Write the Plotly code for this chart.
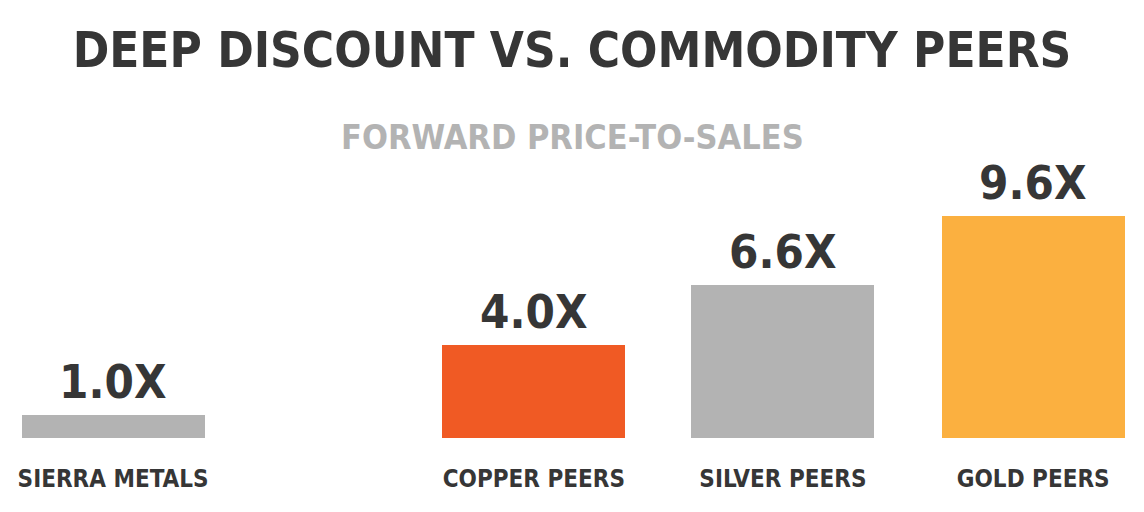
import plotly.graph_objects as go

# Data
categories = ["SIERRA METALS", "COPPER PEERS", "SILVER PEERS", "GOLD PEERS"]
values = [1.0, 4.0, 6.6, 9.6]
value_labels = ["1.0X", "4.0X", "6.6X", "9.6X"]

# Layout (bar slots; Sierra set apart from the peer group)
x_slots = [0.0, 1.69, 2.69, 3.695]
bar_colors = ["#b3b3b3", "#f05a24", "#b3b3b3", "#fbb040"]

FONT = "DejaVu Sans Condensed, Liberation Sans Narrow, sans-serif"
DARK = "#363636"

fig = go.Figure()
fig.add_trace(go.Bar(
    x=x_slots, y=values, width=0.735,
    marker=dict(color=bar_colors, line=dict(width=0)),
    hoverinfo="skip", showlegend=False,
))

for xs, v, lab in zip(x_slots, values, value_labels):
    fig.add_annotation(
        x=xs, y=v, xref="x", yref="y", text=f"<b>{lab}</b>",
        showarrow=False, yanchor="bottom", xanchor="center", yshift=4,
        font=dict(family=FONT, size=47, color=DARK),
    )

fig.update_layout(
    width=1144, height=512,
    margin=dict(l=0, r=0, t=0, b=74),
    paper_bgcolor="white", plot_bgcolor="white",
    title=dict(
        text="<b>DEEP DISCOUNT VS. COMMODITY PEERS</b>",
        x=0.5, xanchor="center", y=1 - 50 / 512, yanchor="middle",
        yref="container",
        font=dict(family=FONT, size=49, color=DARK),
    ),
    xaxis=dict(
        range=[-0.454, 4.14], showgrid=False, zeroline=False, showline=False,
        tickmode="array", tickvals=x_slots,
        ticktext=[f"<b>{c}</b>" for c in categories],
        tickfont=dict(family=FONT, size=24, color=DARK),
        ticks="", ticklabelstandoff=24, ticklabeloverflow="allow",
        fixedrange=True,
    ),
    yaxis=dict(
        range=[0, 18.9], showgrid=False, zeroline=False, showline=False,
        showticklabels=False, fixedrange=True,
    ),
    bargap=0,
)

fig.add_annotation(
    x=0.5, y=1 - 137 / 438, xref="paper", yref="paper",
    text="<b>FORWARD PRICE-TO-SALES</b>", showarrow=False,
    xanchor="center", yanchor="middle",
    font=dict(family=FONT, size=34, color="#b3b3b3"),
)

fig.write_html("out.html", config={"displayModeBar": False},
               post_script="document.body.style.margin='0';document.body.style.overflow='hidden';")
